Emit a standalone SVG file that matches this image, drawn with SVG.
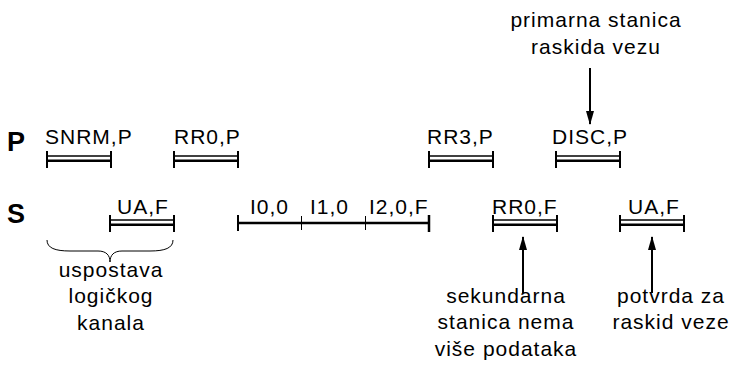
<svg xmlns="http://www.w3.org/2000/svg" width="734" height="374" viewBox="0 0 734 374">
<style>
text{font-family:"Liberation Sans",Arial,sans-serif;fill:#000}
.lbl{font-size:21px;letter-spacing:1px}
.row{font-size:27px;font-weight:bold}
.note{font-size:21px;letter-spacing:1px;text-anchor:middle}
.b1{stroke:#000;stroke-width:1.5;fill:none}
.b2{stroke:#000;stroke-width:2.5;fill:none}
.tk{stroke:#000;stroke-width:2;fill:none}
.tn{stroke:#000;stroke-width:1;fill:none}
.ar{stroke:#000;stroke-width:2;fill:none}
</style>
<defs>
<marker id="ah" viewBox="0 0 14 10" refX="13" refY="5" markerWidth="14" markerHeight="10" markerUnits="userSpaceOnUse" orient="auto">
<path d="M0,1 L14,5 L0,9 Z" fill="#000"/>
</marker>
<g id="dbar">
<line class="b1" x1="0" y1="-3" x2="64" y2="-3"/>
<line class="b2" x1="0" y1="1.8" x2="64" y2="1.8"/>
<line class="tk" x1="0" y1="-8" x2="0" y2="9"/>
<line class="tk" x1="64" y1="-8" x2="64" y2="9"/>
</g>
</defs>
<g id="rowP"><text class="row" x="7" y="151">P</text></g>
<g id="rowS"><text class="row" x="7" y="223">S</text></g>
<g id="snrm"><text class="lbl" x="45" y="144">SNRM,P</text><use href="#dbar" x="47" y="159"/></g>
<g id="rr0p"><text class="lbl" x="174" y="144">RR0,P</text><use href="#dbar" x="174" y="159"/></g>
<g id="rr3p"><text class="lbl" x="427" y="144">RR3,P</text><use href="#dbar" x="429" y="159"/></g>
<g id="discp"><text class="lbl" x="552" y="144">DISC,P</text><use href="#dbar" x="556" y="159"/></g>
<g id="uaf1"><text class="lbl" x="117" y="214">UA,F</text><use href="#dbar" x="110" y="223"/></g>
<g id="iframes">
<text class="lbl" x="250" y="214">I0,0</text>
<text class="lbl" x="310" y="214">I1,0</text>
<text class="lbl" x="369" y="214">I2,0,F</text>
<line class="b2" x1="238" y1="223" x2="429" y2="223"/>
<line class="tk" x1="238" y1="215" x2="238" y2="231"/>
<line class="tn" x1="301.5" y1="216" x2="301.5" y2="230"/>
<line class="tn" x1="365.5" y1="216" x2="365.5" y2="230"/>
<line class="b2" x1="429" y1="215" x2="429" y2="232"/>
</g>
<g id="rr0f"><text class="lbl" x="492" y="214">RR0,F</text><use href="#dbar" x="493" y="223"/></g>
<g id="uaf2"><text class="lbl" x="628" y="214">UA,F</text><use href="#dbar" x="620" y="223"/></g>
<g id="note-top">
<text class="note" x="596" y="27">primarna stanica</text>
<text class="note" x="596" y="54">raskida vezu</text>
</g>
<g id="note-setup">
<text class="note" x="111" y="277">uspostava</text>
<text class="note" x="111" y="303">logičkog</text>
<text class="note" x="111" y="330">kanala</text>
</g>
<g id="note-sec">
<text class="note" x="506" y="303">sekundarna</text>
<text class="note" x="506" y="329">stanica nema</text>
<text class="note" x="506" y="356">više podataka</text>
</g>
<g id="note-ack">
<text class="note" x="671" y="303">potvrda za</text>
<text class="note" x="671" y="329">raskid veze</text>
</g>
<g id="connectors">
<line class="ar" x1="590" y1="68" x2="590" y2="124" marker-end="url(#ah)"/>
<line class="ar" x1="523" y1="293" x2="523" y2="237" marker-end="url(#ah)"/>
<line class="ar" x1="652" y1="293" x2="652" y2="237" marker-end="url(#ah)"/>
<path class="tn" d="M47,240 C47,248 55,251 70,251 L98,251 C106,251 110,255 110,262 C110,255 114,251 122,251 L150,251 C165,251 173,248 173,240"/>
</g>
</svg>
